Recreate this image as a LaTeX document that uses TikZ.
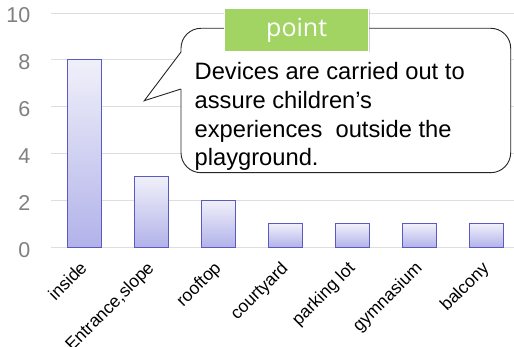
\documentclass[tikz,border=0pt]{standalone}
\usepackage{fontspec}
\setmainfont{Liberation Sans}
\newfontfamily\pointfont{Open Sans}
\usetikzlibrary{shadows}
\definecolor{gridc}{HTML}{DEDEDE}
\definecolor{barline}{HTML}{5A5AC0}
\definecolor{bartop}{HTML}{F0F0FA}
\definecolor{barbot}{HTML}{B2B2EA}
\definecolor{ticklab}{HTML}{808080}
\definecolor{pointgreen}{HTML}{A2D463}
\begin{document}
\begin{tikzpicture}[x=1pt,y=1pt,
  gridline/.style={draw=gridc,line width=0.9pt},
  bar/.style={draw=barline,line width=0.9pt,top color=bartop,bottom color=barbot,minimum width=34.5pt,inner sep=0,anchor=south},
  ylab/.style={anchor=east,inner sep=0,text=ticklab,font=\fontsize{21.5}{24}\selectfont},
  xlab/.style={anchor=base east,inner sep=0,rotate=45,font=\fontsize{17.5}{20}\selectfont},
  callout/.style={draw=black!85,line width=0.9pt,fill=white},
  pointbox/.style={fill=pointgreen,draw=white,line width=1.3pt,minimum width=144pt,minimum height=43pt,inner sep=0,
    drop shadow={shadow xshift=0.8pt,shadow yshift=-0.8pt,opacity=0.35},
    text=white,font=\pointfont\fontsize{25}{28}\selectfont},
]
\useasboundingbox (0,0) rectangle (514,347);
% grid
\foreach \v/\n in {0/g0,2/g2,4/g4,6/g6,8/g8,10/g10}{
  \coordinate (\n s) at (51,99.3+23.47*\v);
  \coordinate (\n e) at (514,99.3+23.47*\v);
  \draw[gridline] (\n s) -- (\n e);
  \node[ylab] (\n l) at (30.5,99.3+23.47*\v-2.5) {\v};
}
% bars
\foreach \i/\val/\lab in {1/8/inside,2/3/{Entrance,slope},3/2/rooftop,4/1/courtyard,5/1/parking lot,6/1/gymnasium,7/1/balcony}{
  \node[bar,minimum height=23.47*\val pt] (b\i) at (84.5+67*\i-67,99.3) {};
  \node[xlab] (x\i) at (88+67*\i-67,78) {\lab};
}
% callout
\path[callout,draw=none] (181,258) -- (181,174.3) -- (511,174.3) -- (511,318.7) -- (181,318.7) -- cycle;
\draw[callout,fill=none,rounded corners=20pt] (181,295) -- (181,318.7) -- (510.7,318.7) -- (510.7,174.3) -- (181,174.3) -- (181,258);
\fill[white] (181.5,295) -- (144.3,246.3) -- (181.5,258) -- cycle;
\coordinate (ptip) at (144.3,246.3);
\coordinate (pa) at (181,295);
\coordinate (pb) at (181,258);
\draw[callout,fill=none,line join=miter] (pa) -- (ptip) -- (pb);
\node[anchor=north west,inner sep=0,align=left,font=\fontsize{23.7}{28.6}\selectfont] (txt) at (194.5,284.5)
  {Devices are carried out to\\assure children’s\\experiences\ \ outside the\\playground.};
% point box
\node[pointbox] (pt) at (296.7,317) {point};
\end{tikzpicture}
\end{document}
